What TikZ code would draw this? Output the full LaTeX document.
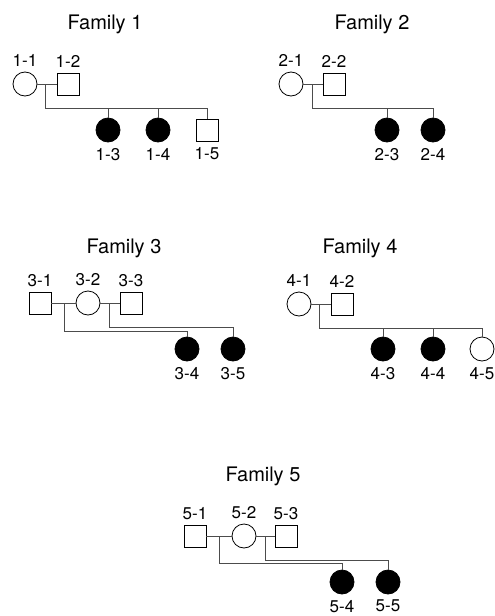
\documentclass[tikz,border=0pt]{standalone}
\usepackage{fontspec}
\setmainfont{TeX Gyre Heros}
\tikzset{
  male/.style={draw,rectangle,minimum size=22pt,inner sep=0pt,line width=0.8pt},
  female/.style={draw,circle,minimum size=24pt,inner sep=0pt,line width=0.8pt},
  affected/.style={fill=black},
  idtop/.style={label={[font=\fontsize{17}{17}\selectfont,inner sep=0pt,label distance=4.5pt]above:#1}},
  idbot/.style={label={[font=\fontsize{17}{17}\selectfont,inner sep=0pt,label distance=5.5pt]below:#1}},
  title/.style={font=\fontsize{20}{20}\selectfont,anchor=base,inner sep=0pt},
  link/.style={draw=black!70,line width=1pt}
}
\begin{document}
\begin{tikzpicture}[x=1pt,y=-1pt]
      \useasboundingbox (0,0) rectangle (495,616);
      % titles
      \node[title] (t1) at (105,29) {Family 1};
      \node[title] (t2) at (372,29) {Family 2};
      \node[title] (t3) at (124,253) {Family 3};
      \node[title] (t4) at (360,253) {Family 4};
      \node[title] (t5) at (263,481) {Family 5};
      % family 1
      \draw
        (25,84) node[female,idtop=1-1] (11){}
        (68,84) node[male,idtop=1-2] (12){}
        (108,130) node[female,affected,idbot=1-3] (13){}
        (158,130) node[female,affected,idbot=1-4] (14){}
        (207,130) node[male,idbot=1-5] (15){};
      % family 2
      \draw
        (291,84) node[female,idtop=2-1] (21){}
        (334,84) node[male,idtop=2-2] (22){}
        (387,130) node[female,affected,idbot=2-3] (23){}
        (433,130) node[female,affected,idbot=2-4] (24){};
      % family 3
      \draw
        (40,303) node[male,idtop=3-1] (31){}
        (88,303) node[female,idtop=3-2] (32){}
        (131,303) node[male,idtop=3-3] (33){}
        (187,349) node[female,affected,idbot=3-4] (34){}
        (233,349) node[female,affected,idbot=3-5] (35){};
      % family 4
      \draw
        (299,304) node[female,idtop=4-1] (41){}
        (342,304) node[male,idtop=4-2] (42){}
        (383,349) node[female,affected,idbot=4-3] (43){}
        (433,349) node[female,affected,idbot=4-4] (44){}
        (482,349) node[female,idbot=4-5] (45){};
      % family 5
      \draw
        (195,536) node[male,idtop=5-1] (51){}
        (244,536) node[female,idtop=5-2] (52){}
        (286,536) node[male,idtop=5-3] (53){}
        (342,582) node[female,affected,idbot=5-4] (54){}
        (388,582) node[female,affected,idbot=5-5] (55){};
      \coordinate (m1) at (45,84);   \coordinate (s1) at (45,108);
      \coordinate (m2) at (312,84);  \coordinate (s2) at (312,108);
      \coordinate (m31) at (64,303); \coordinate (s31) at (64,331);
      \coordinate (m32) at (109,303); \coordinate (s32) at (109,327);
      \coordinate (m4) at (319,304); \coordinate (s4) at (319,328);
      \coordinate (m51) at (219,536); \coordinate (s51) at (219,563);
      \coordinate (m52) at (265,536); \coordinate (s52) at (265,560);
      \begin{scope}[link]
        \draw (11) to (12);
        \draw (m1) to (s1);
        \draw (s1) -| (13);
        \draw (s1) -| (14);
        \draw (s1) -| (15);
        \draw (21) to (22);
        \draw (m2) to (s2);
        \draw (s2) -| (23);
        \draw (s2) -| (24);
        \draw (31) to (32);
        \draw (32) to (33);
        \draw (m31) to (s31);
        \draw (s31) -| (34);
        \draw (m32) to (s32);
        \draw (s32) -| (35);
        \draw (41) to (42);
        \draw (m4) to (s4);
        \draw (s4) -| (43);
        \draw (s4) -| (44);
        \draw (s4) -| (45);
        \draw (51) to (52);
        \draw (52) to (53);
        \draw (m51) to (s51);
        \draw (s51) -| (54);
        \draw (m52) to (s52);
        \draw (s52) -| (55);
      \end{scope}
    \end{tikzpicture}
\end{document}
